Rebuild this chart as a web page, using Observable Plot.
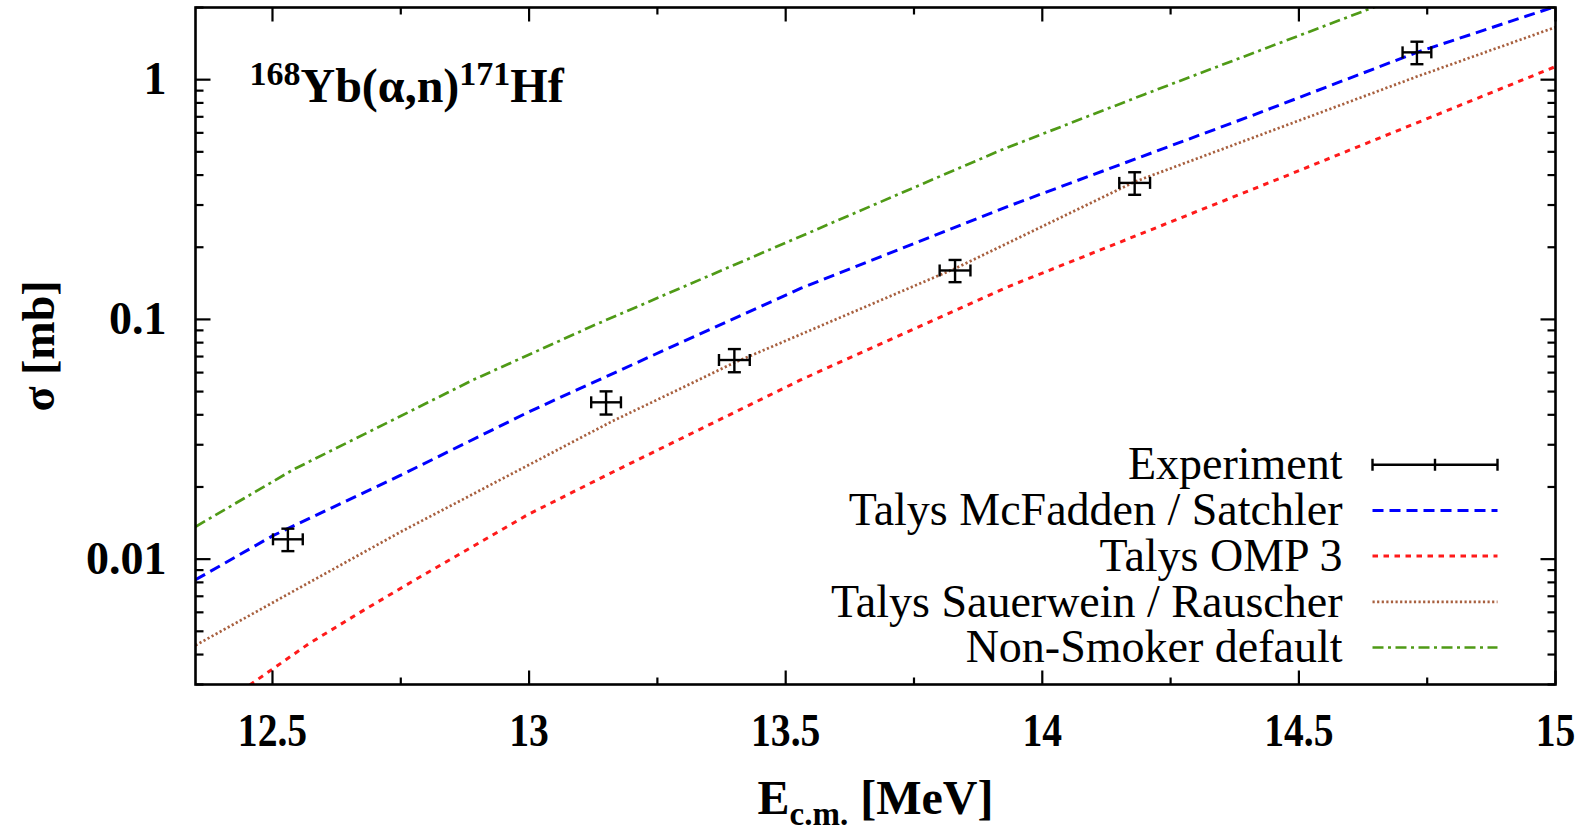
<!DOCTYPE html>
<html><head><meta charset="utf-8">
<script src="https://cdn.jsdelivr.net/npm/d3@7"></script>
<script src="https://cdn.jsdelivr.net/npm/@observablehq/plot@0.6"></script>
<style>
html,body{margin:0;padding:0;background:#fff;}
#chart svg{display:block;}
#chart text{white-space:pre;}
</style>
</head><body>
<div id="chart"></div>
<script>
// ---- data ----
const expE = [12.53, 13.15, 13.40, 13.83, 14.18, 14.73];
const expSigma = [0.0121, 0.0451, 0.0677, 0.160, 0.371, 1.30];
const expEErr = [0.029, 0.029, 0.030, 0.030, 0.030, 0.028];
const expSigmaErr = [0.0013, 0.0050, 0.0075, 0.017, 0.040, 0.14];

const mcfaddenE = [12.35, 12.5, 12.75, 13.0, 13.12, 13.53, 13.94, 14.41, 14.73, 15.0];
const mcfaddenSigma = [0.0082, 0.0125, 0.0224, 0.0412, 0.054, 0.135, 0.30, 0.71, 1.30, 2.02];

const omp3E = [12.35, 12.457, 12.571, 12.678, 12.788, 12.996, 13.158, 13.529, 13.93, 14.465, 15.0];
const omp3Sigma = [0.00207, 0.0030, 0.00444, 0.00613, 0.00844, 0.01527, 0.0228, 0.0559, 0.136, 0.389, 1.134];

const sauerweinE = [12.35, 12.75, 13.16, 13.40, 13.83, 14.18, 14.73, 15.0];
const sauerweinSigma = [0.00437, 0.0130, 0.0374, 0.066, 0.163, 0.375, 1.03, 1.655];

const nonSmokerE = [12.35, 12.54, 12.89, 13.12, 13.92, 14.2, 14.65, 15.0];
const nonSmokerSigma = [0.01365, 0.0236, 0.0558, 0.0932, 0.509, 0.87, 2.02, 3.9];

const xMajorTicks = [12.5, 13, 13.5, 14, 14.5, 15];
const xTickLabels = ["12.5", "13", "13.5", "14", "14.5", "15"];
const xMinorTicks = [12.75, 13.25, 13.75, 14.25, 14.75];
const yMajorTicks = [0.01, 0.1, 1];
const yTickLabels = ["0.01", "0.1", "1"];
const yMinorTicks = [0.003, 0.004, 0.005, 0.006, 0.007, 0.008, 0.009,
                     0.02, 0.03, 0.04, 0.05, 0.06, 0.07, 0.08, 0.09,
                     0.2, 0.3, 0.4, 0.5, 0.6, 0.7, 0.8, 0.9, 2];

const titleText = "168Yb(α,n)171Hf";
const xLabelText = "Ec.m. [MeV]";
const yLabelText = "σ [mb]";
const legendLabels = ["Experiment", "Talys McFadden / Satchler", "Talys OMP 3", "Talys Sauerwein / Rauscher", "Non-Smoker default"];

// ---- styles ----
const SERIF = "'Liberation Serif', 'Times New Roman', serif";
const series = [
  {E: mcfaddenE, s: mcfaddenSigma, stroke: "#0000ff", dash: "11,6", width: 3},
  {E: omp3E, s: omp3Sigma, stroke: "#ff1a1a", dash: "5.5,5.5", width: 3},
  {E: sauerweinE, s: sauerweinSigma, stroke: "#a8603f", dash: "2.2,2.4", width: 2.7},
  {E: nonSmokerE, s: nonSmokerSigma, stroke: "#4f9a16", dash: "11,4.5,3,4.5", width: 2.7}
];

const lineShape = {draw(ctx, l) { ctx.moveTo(0, 0); ctx.lineTo(0, -l); }};
const errShape = {draw(ctx, l) {
  ctx.moveTo(0, 0); ctx.lineTo(0, -l);
  ctx.moveTo(-6, 0); ctx.lineTo(6, 0);
  ctx.moveTo(-6, -l); ctx.lineTo(6, -l);
  ctx.moveTo(-6, -l / 2); ctx.lineTo(6, -l / 2);
}};

const idx = d3.range(expE.length);
const tickOpts = {shape: lineShape, anchor: "start", stroke: "black", strokeWidth: 2.2, strokeLinecap: "butt"};
const boldText = {fontWeight: "bold", fontFamily: SERIF, fill: "black"};

const marks = [];
// curves
for (const sr of series) {
  marks.push(Plot.line(d3.range(sr.E.length), {
    x: i => sr.E[i], y: i => sr.s[i], stroke: sr.stroke, strokeWidth: sr.width,
    strokeDasharray: sr.dash, strokeLinecap: "butt", strokeLinejoin: "miter", clip: true
  }));
}
// experiment error bars
marks.push(
  Plot.ruleY(idx, {y: i => expSigma[i], x1: i => expE[i] - expEErr[i], x2: i => expE[i] + expEErr[i], stroke: "black", strokeWidth: 2.4}),
  Plot.ruleX(idx, {x: i => expE[i], y1: i => expSigma[i] - expSigmaErr[i], y2: i => expSigma[i] + expSigmaErr[i], stroke: "black", strokeWidth: 2.4}),
  Plot.vector(idx.flatMap(i => [[expE[i] - expEErr[i], expSigma[i]], [expE[i] + expEErr[i], expSigma[i]]]),
    {x: d => d[0], y: d => d[1], length: 12, rotate: 0, anchor: "middle", shape: lineShape, stroke: "black", strokeWidth: 2.4, strokeLinecap: "butt"}),
  Plot.vector(idx.flatMap(i => [[expE[i], expSigma[i] - expSigmaErr[i]], [expE[i], expSigma[i] + expSigmaErr[i]]]),
    {x: d => d[0], y: d => d[1], length: 13, rotate: 90, anchor: "middle", shape: lineShape, stroke: "black", strokeWidth: 2.4, strokeLinecap: "butt"})
);
// ticks (inward, all four sides)
marks.push(
  Plot.vector(xMajorTicks, {x: d => d, frameAnchor: "bottom", rotate: 0, length: 14, ...tickOpts}),
  Plot.vector(xMinorTicks, {x: d => d, frameAnchor: "bottom", rotate: 0, length: 7, ...tickOpts}),
  Plot.vector(xMajorTicks, {x: d => d, frameAnchor: "top", rotate: 180, length: 14, ...tickOpts}),
  Plot.vector(xMinorTicks, {x: d => d, frameAnchor: "top", rotate: 180, length: 7, ...tickOpts}),
  Plot.vector(yMajorTicks, {y: d => d, frameAnchor: "left", rotate: 90, length: 15, ...tickOpts}),
  Plot.vector(yMinorTicks, {y: d => d, frameAnchor: "left", rotate: 90, length: 8, ...tickOpts}),
  Plot.vector(yMajorTicks, {y: d => d, frameAnchor: "right", rotate: -90, length: 15, ...tickOpts}),
  Plot.vector(yMinorTicks, {y: d => d, frameAnchor: "right", rotate: -90, length: 8, ...tickOpts})
);
// tick labels
marks.push(
  Plot.text(xMajorTicks, {x: d => d, text: (d, i) => xTickLabels[i], frameAnchor: "bottom", lineAnchor: "middle", textAnchor: "middle",
    dy: 47, fontSize: 46, ...boldText}),
  Plot.text(yMajorTicks, {y: d => d, text: (d, i) => yTickLabels[i], frameAnchor: "left", lineAnchor: "middle", dx: -29, textAnchor: "end",
    fontSize: 46, ...boldText})
);
// axis labels and title
marks.push(
  Plot.text([xLabelText], {text: d => d, frameAnchor: "bottom", lineAnchor: "middle", textAnchor: "middle", dy: 114, fontSize: 48, ...boldText}),
  Plot.text([yLabelText], {text: d => d, frameAnchor: "left", lineAnchor: "middle", textAnchor: "middle", dx: -156, rotate: -90, fontSize: 46, ...boldText}),
  Plot.text([titleText], {text: d => d, frameAnchor: "top-left", lineAnchor: "top", textAnchor: "start", dx: 54, dy: 60, fontSize: 48, ...boldText})
);
// legend (inside, bottom right)
const legendStyles = [
  {stroke: "black", dash: null, width: 2.4, shape: errShape},
  {stroke: series[0].stroke, dash: series[0].dash, width: series[0].width, shape: lineShape},
  {stroke: series[1].stroke, dash: series[1].dash, width: series[1].width, shape: lineShape},
  {stroke: series[2].stroke, dash: series[2].dash, width: series[2].width, shape: lineShape},
  {stroke: series[3].stroke, dash: series[3].dash, width: series[3].width, shape: lineShape}
];
legendLabels.forEach((lab, i) => {
  const rowDy = -(37 + (legendLabels.length - 1 - i) * 45.7);
  marks.push(
    Plot.text([lab], {text: d => d, frameAnchor: "bottom-right", lineAnchor: "middle", textAnchor: "end", dx: -213, dy: rowDy,
      fontSize: 46, fontFamily: SERIF, fill: "black"}),
    Plot.vector([lab], {frameAnchor: "bottom-right", dx: -183, dy: rowDy, rotate: 90, length: 125, anchor: "start",
      shape: legendStyles[i].shape, stroke: legendStyles[i].stroke, strokeWidth: legendStyles[i].width,
      strokeDasharray: legendStyles[i].dash, strokeLinecap: "butt"})
  );
});
marks.push(Plot.frame({stroke: "black", strokeWidth: 2.6}));

const svg = Plot.plot({
  width: 1591, height: 826,
  marginLeft: 195, marginRight: 36, marginTop: 7, marginBottom: 142,
  x: {domain: [12.35, 15], axis: null},
  y: {type: "log", domain: [0.003, 2], axis: null},
  style: {background: "white", overflow: "visible"},
  marks
});
document.getElementById("chart").appendChild(svg);

// rich text: superscripts / subscripts
function findText(content) {
  return d3.select(svg).selectAll("text").filter(function() { return this.textContent === content; });
}
function rich(content, parts) {
  findText(content).each(function() {
    const t = d3.select(this);
    t.text(null);
    for (const p of parts) {
      const ts = t.append("tspan").attr("font-size", p.size).text(p.text);
      if (p.dy) ts.attr("dy", p.dy);
    }
  });
}
function stretch(content, factor) {
  findText(content).each(function() {
    const w = this.getComputedTextLength();
    this.setAttribute("textLength", w * factor);
    this.setAttribute("lengthAdjust", "spacingAndGlyphs");
  });
}
rich(titleText, [
  {text: "168", size: 34, dy: -17}, {text: "Yb(α,n)", size: 48, dy: 17},
  {text: "171", size: 34, dy: -17}, {text: "Hf", size: 48, dy: 17}
]);
rich(xLabelText, [
  {text: "E", size: 48}, {text: "c.m.", size: 33, dy: 11}, {text: " [MeV]", size: 48, dy: -11}
]);
xTickLabels.forEach(t => stretch(t, 0.86));
</script>
</body></html>
